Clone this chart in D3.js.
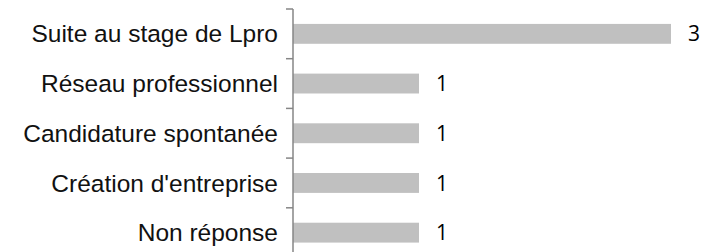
<!DOCTYPE html>
<html>
<head>
<meta charset="utf-8">
<script src="https://cdn.jsdelivr.net/npm/d3@7"></script>
<style>
  body { margin: 0; background: #fff; }
</style>
</head>
<body>
<div id="chart"></div>
<script>
// Categories top to bottom and their counts
const categories = [
    "Suite au stage de Lpro",
    "Réseau professionnel",
    "Candidature spontanée",
    "Création d'entreprise",
    "Non réponse"
];
const counts = [3, 1, 1, 1, 1];

const width = 715, height = 252;
const margin = { top: 9, left: 293 };
const plotH = 248.5;

const svg = d3.select("#chart").append("svg")
    .attr("width", width)
    .attr("height", height);

const g = svg.append("g")
    .attr("transform", `translate(${margin.left},${margin.top})`);

const x = d3.scaleLinear().domain([0, 3]).range([0, 378]);
const y = d3.scaleBand().domain(categories).range([0, plotH]).paddingInner(0.6).paddingOuter(0.3);

// category labels
g.selectAll(".cat")
    .data(categories)
    .enter().append("text")
    .attr("x", -15)
    .attr("y", d => y(d) + y.bandwidth() / 2)
    .attr("dy", "0.35em")
    .attr("text-anchor", "end")
    .style("font-family", "Liberation Sans, Arial, sans-serif")
    .style("font-size", "24.5px")
    .style("fill", "#111")
    .text(d => d);

// bars
g.selectAll(".bar")
    .data(categories)
    .enter().append("rect")
    .attr("x", 0)
    .attr("y", d => y(d))
    .attr("width", (d, i) => x(counts[i]))
    .attr("height", y.bandwidth())
    .attr("fill", "#c0c0c0");

// value labels
g.selectAll(".val")
    .data(categories)
    .enter().append("text")
    .attr("x", (d, i) => x(counts[i]) + 17)
    .attr("y", d => y(d) + y.bandwidth() / 2)
    .attr("dy", "0.36em")
    .style("font-family", "'Open Sans', sans-serif")
    .style("font-size", "21px")
    .style("fill", "#000")
    .text((d, i) => counts[i]);

// axis line with ticks at band boundaries
const boundaries = d3.range(categories.length + 1).map(i => i * plotH / categories.length);
g.append("line")
    .attr("x1", 0).attr("x2", 0)
    .attr("y1", 0).attr("y2", plotH)
    .attr("stroke", "#868686")
    .attr("stroke-width", 1.5);
g.selectAll(".tick")
    .data(boundaries)
    .enter().append("line")
    .attr("x1", -7).attr("x2", 0)
    .attr("y1", d => d).attr("y2", d => d)
    .attr("stroke", "#868686")
    .attr("stroke-width", 1.5);
</script>
</body>
</html>
